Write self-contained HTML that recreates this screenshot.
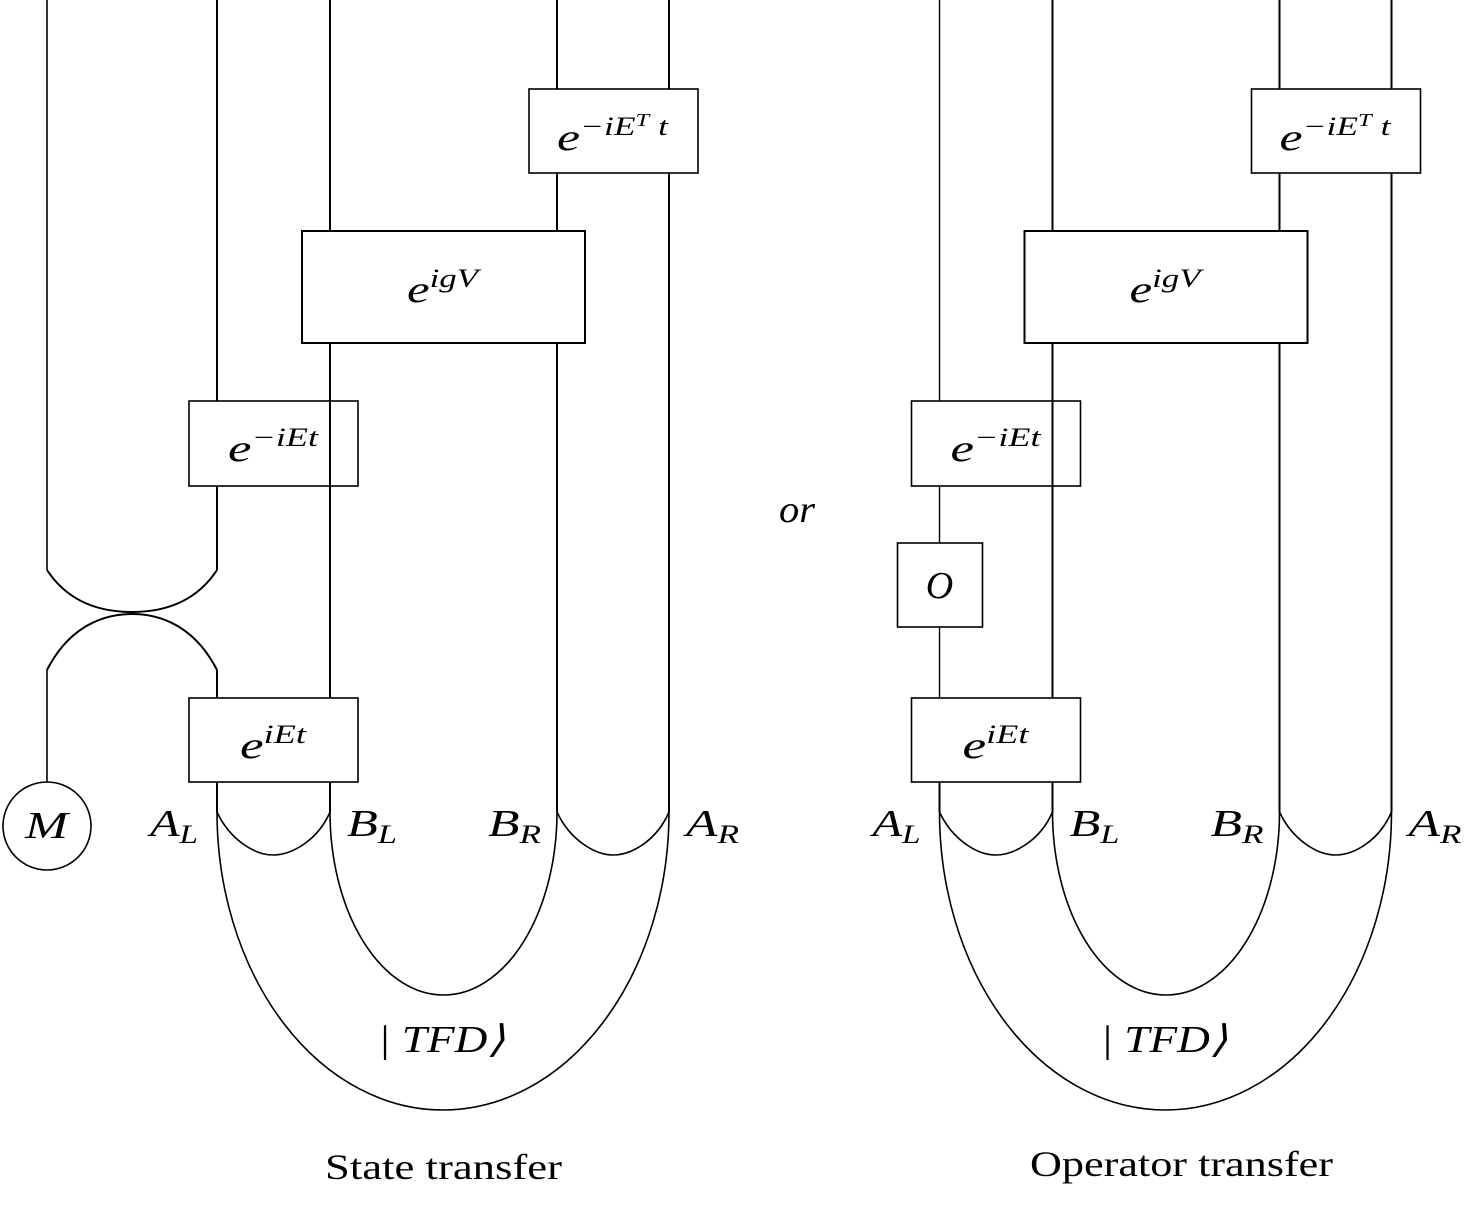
<!DOCTYPE html>
<html><head><meta charset="utf-8"><style>
html,body{margin:0;padding:0;background:#fff;}
svg{display:block;}
text{font-family:"Liberation Serif",serif;fill:#000;}
.m{font-style:italic;font-size:38px;}
.s{font-style:italic;font-size:26px;}
</style></head><body>
<svg width="1464" height="1212" viewBox="0 0 1464 1212" xmlns="http://www.w3.org/2000/svg">
<defs>
<g id="common" fill="none" stroke="#000" stroke-width="2">
  <line x1="330" y1="0" x2="330" y2="231"/>
  <line x1="330" y1="343" x2="330" y2="698"/>
  <line x1="330" y1="782" x2="330" y2="812"/>
  <line x1="557" y1="0" x2="557" y2="89"/>
  <line x1="557" y1="173" x2="557" y2="231"/>
  <line x1="557" y1="343" x2="557" y2="812"/>
  <line x1="669" y1="0" x2="669" y2="89"/>
  <line x1="669" y1="173" x2="669" y2="812"/>
  <line x1="217" y1="782" x2="217" y2="812"/>
  <rect x="529" y="89" width="169" height="84" stroke-width="1.6"/>
  <rect x="302" y="231" width="283" height="112"/>
  <rect x="189" y="401" width="169" height="85" stroke-width="1.6"/>
  <rect x="189" y="698" width="169" height="84" stroke-width="1.6"/>
  <path d="M217 812 A226 298 0 0 0 669 812" stroke-width="1.6"/>
  <path d="M330 812 A113.5 183 0 0 0 557 812" stroke-width="1.6"/>
  <path d="M217 812 C230 840 255 855 273 855 C292 855 318 840 330 812" stroke-width="1.6"/>
  <path d="M557 812 C570 840 595 855 613 855 C632 855 657 840 669 812" stroke-width="1.6"/>
</g>
<g id="labels">
  <text class="m" x="557" y="150" textLength="111" lengthAdjust="spacingAndGlyphs">e<tspan class="s" dy="-15">−iE</tspan><tspan font-size="18" dy="-9" font-style="italic">T</tspan><tspan class="s" dy="9"> t</tspan></text>
  <text class="m" x="407" y="302" textLength="71" lengthAdjust="spacingAndGlyphs">e<tspan class="s" dy="-15">igV</tspan></text>
  <text class="m" x="228" y="461" textLength="90" lengthAdjust="spacingAndGlyphs">e<tspan class="s" dy="-15">−iEt</tspan></text>
  <text class="m" x="240" y="758" textLength="66" lengthAdjust="spacingAndGlyphs">e<tspan class="s" dy="-15">iEt</tspan></text>
  <text class="m" x="150" y="836" textLength="48" lengthAdjust="spacingAndGlyphs">A<tspan class="s" dy="7">L</tspan></text>
  <text class="m" x="347" y="836" textLength="50" lengthAdjust="spacingAndGlyphs">B<tspan class="s" dy="7">L</tspan></text>
  <text class="m" x="488" y="836" textLength="53" lengthAdjust="spacingAndGlyphs">B<tspan class="s" dy="7">R</tspan></text>
  <text class="m" x="686" y="836" textLength="53" lengthAdjust="spacingAndGlyphs">A<tspan class="s" dy="7">R</tspan></text>
  <text class="m" x="378" y="1052" textLength="127" lengthAdjust="spacingAndGlyphs">| TFD⟩</text>
</g>
</defs>

<use href="#common"/>
<use href="#labels"/>
<g fill="none" stroke="#000" stroke-width="2">
  <line x1="47" y1="0" x2="47" y2="570" stroke-width="1.6"/>
  <line x1="217" y1="0" x2="217" y2="401"/>
  <line x1="217" y1="486" x2="217" y2="570"/>
  <path d="M47 570 C70 605 105 612 132 612 C159 612 194 605 217 570"/>
  <path d="M47 670 C70 625 105 614 132 614 C159 614 194 625 217 670"/>
  <line x1="47" y1="670" x2="47" y2="782" stroke-width="1.6"/>
  <line x1="217" y1="670" x2="217" y2="698"/>
  <circle cx="47" cy="826" r="44" stroke-width="1.6"/>
</g>
<text class="m" x="25" y="838" textLength="43" lengthAdjust="spacingAndGlyphs">M</text>
<text x="325" y="1179" font-size="36" textLength="237" lengthAdjust="spacingAndGlyphs">State transfer</text>

<text class="m" x="779" y="522" textLength="36" lengthAdjust="spacingAndGlyphs">or</text>

<g transform="translate(722.5,0)">
  <use href="#common"/>
  <use href="#labels"/>
  <g fill="none" stroke="#000">
    <line x1="217" y1="0" x2="217" y2="401" stroke-width="1.4"/>
    <line x1="217" y1="486" x2="217" y2="543" stroke-width="1.4"/>
    <line x1="217" y1="627" x2="217" y2="698" stroke-width="1.4"/>
    <rect x="175" y="543" width="85" height="84" stroke-width="1.6"/>
  </g>
  <text class="m" x="217" y="598" text-anchor="middle">O</text>
</g>
<text x="1030" y="1176" font-size="36" textLength="303" lengthAdjust="spacingAndGlyphs">Operator transfer</text>
</svg>
</body></html>
